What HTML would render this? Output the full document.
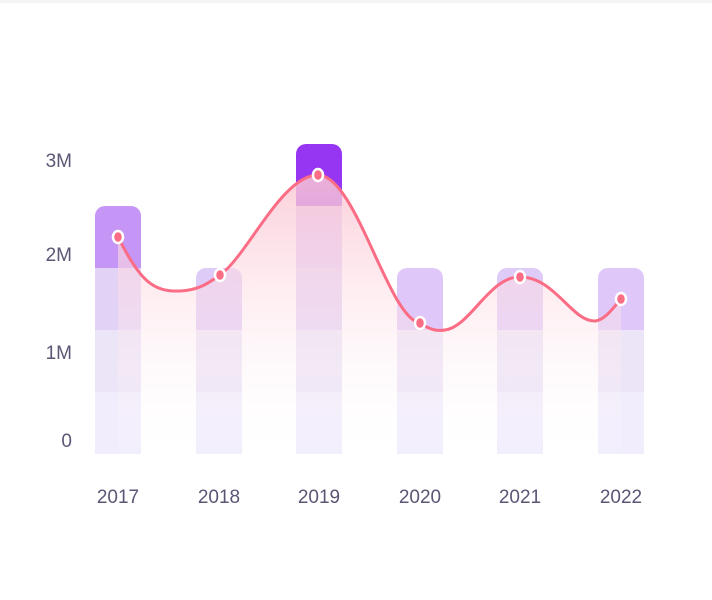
<!DOCTYPE html>
<html><head><style>
html,body{margin:0;padding:0;background:#fff;width:712px;height:600px;overflow:hidden}
text{font-family:"Liberation Sans",sans-serif;fill:#5b5675}
</style></head><body>
<svg id="s" width="712" height="600" viewBox="0 0 712 600">
<defs>
<linearGradient id="ag" gradientUnits="userSpaceOnUse" x1="0" y1="175" x2="0" y2="454">
<stop offset="0" stop-color="#fbc6d3" stop-opacity="0.85"/>
<stop offset="1" stop-color="#ffffff" stop-opacity="0.1"/>
</linearGradient>
</defs>
<rect x="0" y="0" width="712" height="3" fill="#f4f4f6"/>
<g font-size="19" text-anchor="end">
<text x="72" y="167">3M</text>
<text x="72" y="261">2M</text>
<text x="72" y="359">1M</text>
<text x="72" y="447">0</text>
</g>
<g font-size="19" text-anchor="middle">
<text x="118" y="503">2017</text>
<text x="219" y="503">2018</text>
<text x="319" y="503">2019</text>
<text x="420" y="503">2020</text>
<text x="520" y="503">2021</text>
<text x="621" y="503">2022</text>
</g>
<g id="bars"></g>
<path id="area" fill="url(#ag)"/>
<path id="line" fill="none" stroke="#fb6c85" stroke-width="3"/>
<g id="pts"></g>
</svg>
<script>
var NS="http://www.w3.org/2000/svg";
var xs=[95,196,296,397,497,598], tops=[206,268,144,268,268,268];
var seg=[[392,454,"#f1edfc"],[330,392,"#ece5f8"],[268,330,"#e2d2f6"],[206,268,"#ddc7f7"],[144,206,"#d7b9f4"]];
var topc=["#c596f6","#dfcbf8","#9636f2","#dfc8f9","#dfcbf8","#dfc8f9"];
var g=document.getElementById("bars");
function el(t,a){var e=document.createElementNS(NS,t);for(var k in a)e.setAttribute(k,a[k]);return e;}
for(var i=0;i<6;i++){
 var x=xs[i],t=tops[i];
 for(var j=0;j<seg.length;j++){var s=seg[j];
  if(s[0]>=t+62-1){ g.appendChild(el("rect",{x:x,y:s[0],width:46,height:s[1]-s[0],fill:s[2]})); }
 }
 g.appendChild(el("rect",{x:x,y:t,width:46,height:62,rx:10,fill:topc[i]}));
 g.appendChild(el("rect",{x:x,y:t+20,width:46,height:42,fill:topc[i]}));
}
var px=[118,220,318,420,520,621], py=[237,275,175,323,277,299];
var p="M118 237 C140 280 152 292 180 291 C200 290 210 282 220 275 C248 255 282 175 318 175 C356 175 388 318 420 323 C432 331 438 331 445 330 C470 327 490 276 520 277 C555 277 572 322 595 321 C605 320 613 308 621 299";
document.getElementById("line").setAttribute("d",p);
document.getElementById("area").setAttribute("d",p+" L621 454 L118 454 Z");
var pg=document.getElementById("pts");
for(i=0;i<px.length;i++)pg.appendChild(el("ellipse",{cx:px[i],cy:py[i],rx:5,ry:6,fill:"#fb6c85",stroke:"#fff","stroke-width":2.5}));
</script>
</body></html>
